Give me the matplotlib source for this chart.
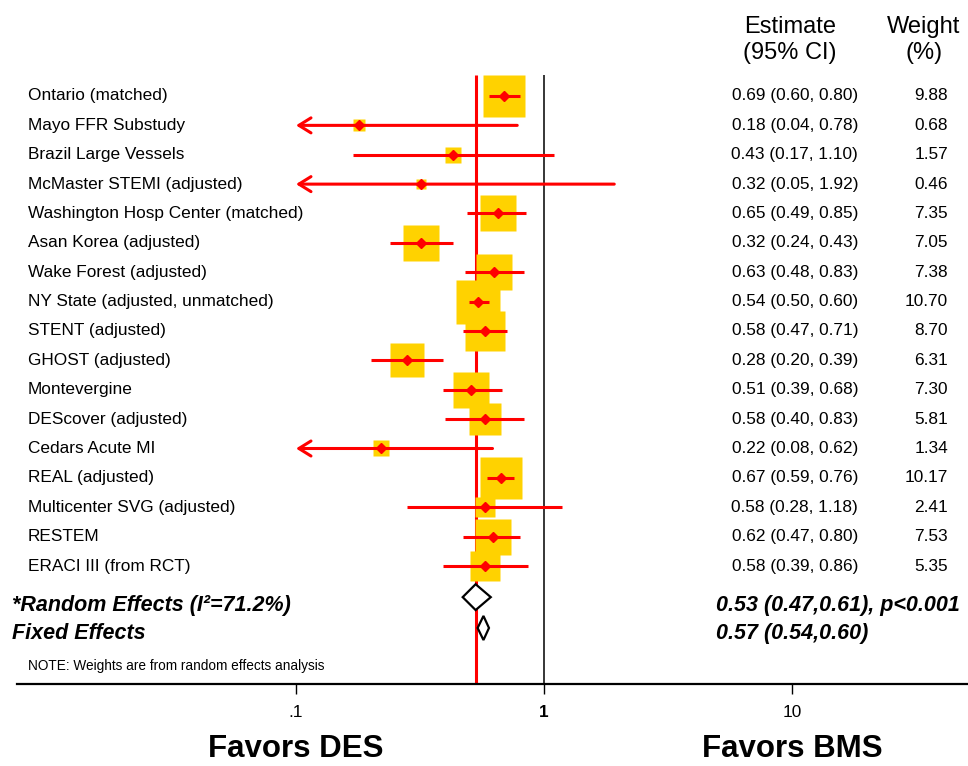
import numpy as np
import matplotlib.pyplot as plt
from matplotlib.patches import Polygon

plt.rcParams['font.family'] = ['Liberation Sans', 'DejaVu Sans']

# study level data
studies = ['Ontario (matched)', 'Mayo FFR Substudy', 'Brazil Large Vessels',
           'McMaster STEMI (adjusted)', 'Washington Hosp Center (matched)',
           'Asan Korea (adjusted)', 'Wake Forest (adjusted)',
           'NY State (adjusted, unmatched)', 'STENT (adjusted)', 'GHOST (adjusted)',
           'Montevergine', 'DEScover (adjusted)', 'Cedars Acute MI', 'REAL (adjusted)',
           'Multicenter SVG (adjusted)', 'RESTEM', 'ERACI III (from RCT)']
est = [0.69, 0.18, 0.43, 0.32, 0.65, 0.32, 0.63, 0.54, 0.58, 0.28,
       0.51, 0.58, 0.22, 0.67, 0.58, 0.62, 0.58]
lo = [0.60, 0.04, 0.17, 0.05, 0.49, 0.24, 0.48, 0.50, 0.47, 0.20,
      0.39, 0.40, 0.08, 0.59, 0.28, 0.47, 0.39]
hi = [0.80, 0.78, 1.10, 1.92, 0.85, 0.43, 0.83, 0.60, 0.71, 0.39,
      0.68, 0.83, 0.62, 0.76, 1.18, 0.80, 0.86]
weights = [9.88, 0.68, 1.57, 0.46, 7.35, 7.05, 7.38, 10.70, 8.70, 6.31,
           7.30, 5.81, 1.34, 10.17, 2.41, 7.53, 5.35]

# pooled estimates
pooled_labels = ['*Random Effects (I\u00b2=71.2%)', 'Fixed Effects']
pooled_est = [0.53, 0.57]
pooled_lo = [0.47, 0.54]
pooled_hi = [0.61, 0.60]
pooled_text = ['0.53 (0.47,0.61), p<0.001', '0.57 (0.54,0.60)']

tick_vals = [0.1, 1, 10]
tick_labels = ['.1', '1', '10']
arrow_cut = 0.1

red = '#FF0000'
gold = '#FFD200'

fig = plt.figure(figsize=(9.68, 7.66), dpi=100)
ax = fig.add_axes([17 / 968, 82 / 766, 951 / 968, 684 / 766])
ax.set_xscale('log')
ax.set_xlim(10 ** -2.125, 10 ** 1.7097)
ybot, ytop = 20.017, -3.268
ax.set_ylim(ybot, ytop)

rows = np.arange(len(studies))
line_top = -0.715

# reference lines
ax.vlines(1, line_top, ybot, color='black', lw=1.1, zorder=1)
ax.vlines(pooled_est[0], line_top, ybot, color=red, lw=2.2, zorder=1)

# weight squares
for i in rows:
    side = 13.36 * np.sqrt(weights[i]) * 0.72
    ax.plot(est[i], i, 's', ms=side, color=gold, mec='none', zorder=2)

# confidence intervals, arrows when cut at .1
for i in rows:
    if lo[i] < arrow_cut:
        ax.annotate('', xy=(arrow_cut, i), xytext=(hi[i], i),
                    arrowprops=dict(arrowstyle='->,head_length=0.29,head_width=0.18',
                                    color=red, lw=2.2, shrinkA=0, shrinkB=0,
                                    mutation_scale=30), zorder=3)
    else:
        ax.hlines(i, lo[i], hi[i], color=red, lw=2.2, zorder=3)
ax.plot(est, rows, 'D', color=red, ms=5.2, mec=red, zorder=4)

# pooled diamonds
diamond_y = [17.06, 18.11]
diamond_h = [0.44, 0.41]
for k in range(2):
    y, h = diamond_y[k], diamond_h[k]
    poly = Polygon([(pooled_lo[k], y), (pooled_est[k], y - h),
                    (pooled_hi[k], y), (pooled_est[k], y + h)],
                   closed=True, facecolor='white', edgecolor='black',
                   lw=1.6, zorder=5)
    ax.add_patch(poly)

# text columns
xt = ax.get_yaxis_transform()
fig_x = lambda px: (px - 17) / 951
for i in rows:
    ax.text(fig_x(28), i, studies[i], transform=xt, fontsize=12.4,
            ha='left', va='center')
    ax.text(fig_x(858), i, '%.2f (%.2f, %.2f)' % (est[i], lo[i], hi[i]),
            transform=xt, fontsize=12.4, ha='right', va='center')
    ax.text(fig_x(948), i, '%.2f' % weights[i], transform=xt, fontsize=12.4,
            ha='right', va='center')

ax.text(fig_x(790), -2.35, 'Estimate', transform=xt, fontsize=17,
        ha='center', va='center')
ax.text(fig_x(790), -1.45, '(95% CI)', transform=xt, fontsize=17,
        ha='center', va='center')
ax.text(fig_x(924), -2.35, 'Weight', transform=xt, fontsize=17,
        ha='center', va='center')
ax.text(fig_x(924), -1.45, '(%)', transform=xt, fontsize=17,
        ha='center', va='center')

text_y = [17.33, 18.3]
for k in range(2):
    ax.text(fig_x(12), text_y[k], pooled_labels[k], transform=xt, fontsize=15.5,
            fontweight='bold', fontstyle='italic', ha='left', va='center')
    ax.text(fig_x(716), text_y[k], pooled_text[k], transform=xt, fontsize=15.5,
            fontweight='bold', fontstyle='italic', ha='left', va='center')

ax.text(fig_x(28), 19.4, 'NOTE: Weights are from random effects analysis',
        transform=xt, fontsize=9.8, ha='left', va='center')

# favours labels, kept just inside the bottom edge
ax.text(0.1, 22.75, 'Favors DES', fontsize=22.5, fontweight='bold',
        ha='center', va='bottom', clip_on=False)
ax.text(10, 22.75, 'Favors BMS', fontsize=22.5, fontweight='bold',
        ha='center', va='bottom', clip_on=False)

# axis styling
for s in ['left', 'top', 'right']:
    ax.spines[s].set_visible(False)
ax.spines['bottom'].set_linewidth(1.6)
ax.set_yticks([])
ax.set_xticks(tick_vals)
ax.set_xticklabels(tick_labels)
ax.minorticks_off()
ax.tick_params(axis='x', direction='out', length=7.2, width=1.0,
               labelsize=12.4, pad=8)
ax.get_xticklabels()[1].set_fontweight('bold')
ax.patch.set_visible(False)

fig.savefig('out.png', dpi=100)
